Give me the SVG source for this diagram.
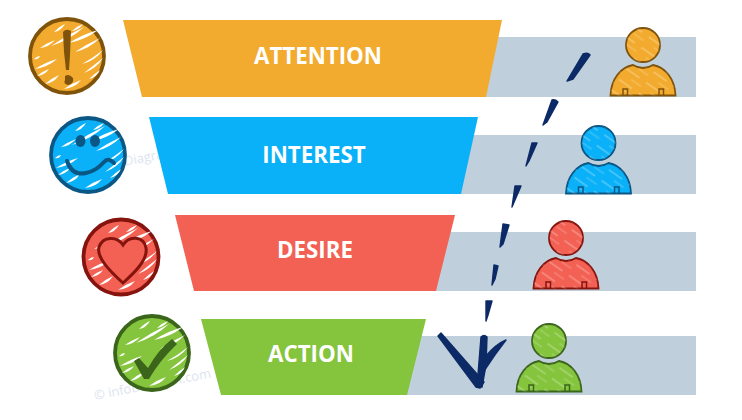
<svg xmlns="http://www.w3.org/2000/svg" xmlns:xlink="http://www.w3.org/1999/xlink" width="742" height="420" viewBox="0 0 742 420">
<style>
.label{font:700 22.3px "Open Sans","Liberation Sans",sans-serif;fill:#fff;text-anchor:middle}
.bar{fill:#BFCFDB}
.wm{font:13px "Open Sans","Liberation Sans",sans-serif;fill:#DCE4F0}
.c1{fill:#F2AB2E;stroke:#80530A}.c2{fill:#0AB1F9;stroke:#0A5785}.c3{fill:#F26153;stroke:#86140E}.c4{fill:#85C43D;stroke:#3A651B}
.f1{fill:#F2AB2E}.f2{fill:#0AB1F9}.f3{fill:#F26153}.f4{fill:#85C43D}
.disc{stroke-width:3.8}
.person{stroke-width:1.800}
.glyph1{fill:#80530A}.glyph2{fill:#0A5785}.glyph4{fill:#3A651B}
.dash{fill:#0C2A66;stroke:#0C2A66;stroke-width:1.400;stroke-linejoin:round}
</style>
<defs>
<pattern id="ph" width="24" height="13" patternUnits="userSpaceOnUse" patternTransform="rotate(35)">
<line x1="0" y1="3" x2="16" y2="3" stroke="#fff" stroke-opacity=".45" stroke-width="1"/>
<line x1="10" y1="9" x2="22" y2="9" stroke="#fff" stroke-opacity=".3" stroke-width="1"/>
</pattern>
<g id="hatch" fill="#fff">
<path d="M-13-24Q-7-30-2-32Q-6-25-13-24Z"/>
<path d="M5-25Q10-30 16-32Q12-26 5-25Z"/>
<path d="M-16-10Q0-21 17-29Q3-16-16-10Z"/>
<path d="M2-13Q16-22 31-26Q18-16 2-13Z"/>
<path d="M8-4Q20-12 33-18Q22-7 8-4Z"/>
<path d="M17 17Q27 9 36 2Q30 12 17 17Z"/>
<path d="M15 8Q26 2 36-6Q28 5 15 8Z"/>
<path d="M-32 13Q-21 6-10 3Q-19 11-32 13Z"/>
<path d="M-33 3Q-30 0-27 0Q-29 4-33 3Z"/>
<path d="M-22 28Q-15 22-8 19Q-13 27-22 28Z"/>
<path d="M-3 33Q5 27 14 24Q8 32-3 33Z"/>
<path d="M-30 20Q-24 15-18 13Q-22 19-30 20Z"/>
<path d="M22 23Q27 18 33 14Q30 21 22 23Z"/>
<path d="M-27-8Q-20-13-12-16Q-18-9-27-8Z"/>
</g>
<g id="personShape">
<circle cx="0" cy="0" r="17"/>
<path d="M-32.500 50.500C-32 34-22 22-10 20Q0 26 10 20C22 22 32 34 32.500 50.500Z"/>
</g>
<path id="slits" fill="none" d="M-20 50V44H-15.500V50M16 50V44H20.500V50"/>
</defs>

<text class="wm" transform="translate(95 400) rotate(-11)">© infoDiagram.com</text>
<text class="wm" transform="translate(88 173) rotate(-11)">© infoDiagram.com</text>

<g id="row-attention">
<rect class="bar" x="470" y="37" width="226" height="60"/>
<path class="f1" d="M123 20H502L486 97H142Z"/>
<text class="label" x="318" y="64">ATTENTION</text>
</g>
<g id="row-interest">
<rect class="bar" x="445" y="135" width="251" height="59"/>
<path class="f2" d="M149 117H478L461 194H168Z"/>
<text class="label" x="314" y="163">INTEREST</text>
</g>
<g id="row-desire">
<rect class="bar" x="420" y="232" width="276" height="59"/>
<path class="f3" d="M175 215H455L436 291H194Z"/>
<text class="label" x="315" y="258">DESIRE</text>
</g>
<g id="row-action">
<rect class="bar" x="395" y="336" width="301" height="59"/>
<path class="f4" d="M201 319H426L407 395H221Z"/>
<text class="label" x="311" y="362">ACTION</text>
</g>

<g id="icon-attention">
<circle class="c1 disc" cx="67" cy="56" r="37"/>
<use xlink:href="#hatch" href="#hatch" x="67" y="56"/>
<path class="glyph1" d="M63 32Q66 28 71 31L70 55L69 70H66L64 52Z"/>
<path class="glyph1" d="M65 76Q69 73 73 78Q74 84 68 85Q63 84 65 80Z"/>
</g>
<g id="icon-interest">
<circle class="c2 disc" cx="88" cy="155" r="37"/>
<use xlink:href="#hatch" href="#hatch" x="88" y="155"/>
<ellipse class="glyph2" cx="80.500" cy="141" rx="5" ry="6"/>
<ellipse class="glyph2" cx="95" cy="141" rx="5" ry="6"/>
<path d="M67 161Q72 176 86 173Q96 171 104 162Q108 157 114 163" fill="none" stroke="#0A5785" stroke-width="4" stroke-linecap="round"/>
</g>
<g id="icon-desire">
<circle class="c3 disc" cx="121" cy="257" r="37.500"/>
<use xlink:href="#hatch" href="#hatch" x="121" y="257"/>
<path d="M123 245C117 236 103 236 99 247C96 258 112 273 123 283C134 273 148 260 146 248C144 236 129 235 123 245Z" fill="#F26153" stroke="#86140E" stroke-width="3"/>
</g>
<g id="icon-action">
<circle class="c4 disc" cx="152" cy="353" r="37"/>
<use xlink:href="#hatch" href="#hatch" x="152" y="353"/>
<path class="glyph4" d="M134 361L139 358L148 368Q158 350 172 339L177 344Q160 360 149 379L144 379Z"/>
</g>

<g id="person-attention" transform="translate(643 45)">
<use class="c1 person" href="#personShape" xlink:href="#personShape"/>
<use href="#personShape" xlink:href="#personShape" fill="url(#ph)"/>
<use href="#slits" xlink:href="#slits" stroke="#80530A" stroke-width="1.500"/>
</g>
<g id="person-interest" transform="translate(598.500 143)">
<use class="c2 person" href="#personShape" xlink:href="#personShape"/>
<use href="#personShape" xlink:href="#personShape" fill="url(#ph)"/>
<use href="#slits" xlink:href="#slits" stroke="#0A5785" stroke-width="1.500"/>
</g>
<g id="person-desire" transform="translate(566 238)">
<use class="c3 person" href="#personShape" xlink:href="#personShape"/>
<use href="#personShape" xlink:href="#personShape" fill="url(#ph)"/>
<use href="#slits" xlink:href="#slits" stroke="#86140E" stroke-width="1.500"/>
</g>
<g id="person-action" transform="translate(549 341)">
<use class="c4 person" href="#personShape" xlink:href="#personShape"/>
<use href="#personShape" xlink:href="#personShape" fill="url(#ph)"/>
<use href="#slits" xlink:href="#slits" stroke="#3A651B" stroke-width="1.500"/>
</g>

<g id="connectors" class="dash">
<path d="M583 54Q588 52 590 55L573 79L567 81Z"/>
<path d="M552 100Q555 99 558 102L547 122L543 125Z"/>
<path d="M532 143L537 143L529 161L526 166Z"/>
<path d="M515 186H521L515 200L512 207Z"/>
<path d="M503 224L509 225L503 244L500 247Z"/>
<path d="M494 265L498 266L495 279L492 285Z"/>
<path d="M486 301H492L488 315L486 321Z"/>
<path d="M438 336L441 333L484 382L480 388L476 387Z"/>
<path d="M481 337Q484 334 487 337L486 365L482 387L477 387Z"/>
<path d="M506 340Q496 344 485 357L484 371Q495 354 506 340Z"/>
</g>
</svg>
